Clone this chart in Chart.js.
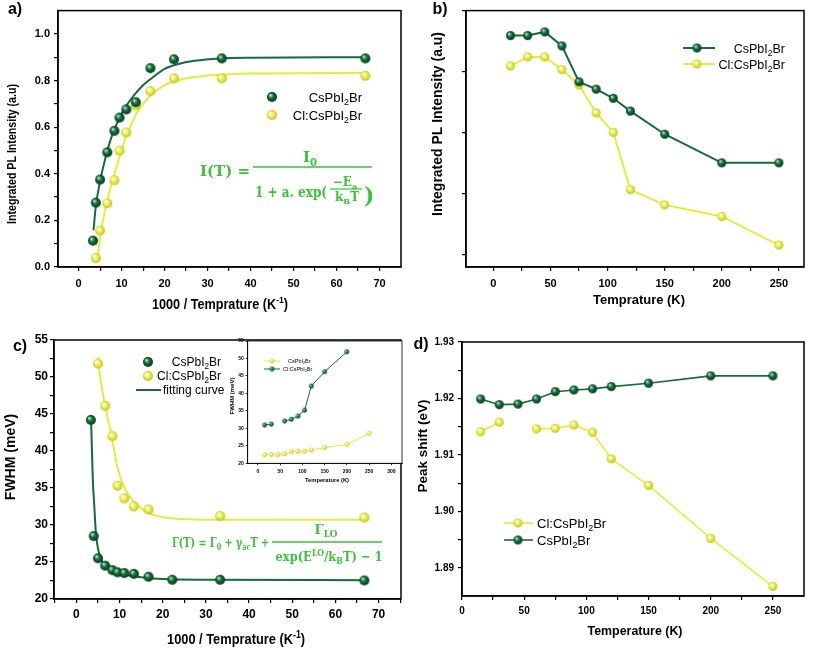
<!DOCTYPE html>
<html>
<head>
<meta charset="utf-8">
<script src="https://cdn.jsdelivr.net/npm/chart.js@4.4.0/dist/chart.umd.min.js"></script>
<style>
html, body { margin: 0; padding: 0; background: #fff; }
#wrap { position: relative; width: 813px; height: 650px; overflow: hidden; background: #fff; }
canvas { position: absolute; }
</style>
</head>
<body>
<div id="wrap">
  <canvas id="ca"></canvas>
  <canvas id="cb"></canvas>
  <canvas id="cc"></canvas>
  <canvas id="cd"></canvas>
  <canvas id="ci"></canvas>
</div>
<script>
// ---- panel a : integrated PL vs 1000/T
var invT_cs_a = [3.33, 4, 5, 6.67, 8.33, 9.52, 11.1, 13.3, 16.7, 22.2, 33.3, 66.7];
var pl_cs_a = [0.113, 0.276, 0.375, 0.492, 0.584, 0.641, 0.676, 0.707, 0.853, 0.891, 0.895, 0.895];
var invT_cl_a = [4, 5, 6.67, 8.33, 9.52, 11.1, 13.3, 16.7, 22.2, 33.3, 66.7];
var pl_cl_a = [0.038, 0.156, 0.273, 0.372, 0.499, 0.577, 0.693, 0.754, 0.809, 0.809, 0.82];
// fitted curves
var fitX_cs_a = [3.46, 4, 5, 6, 7, 8, 9.5, 11, 13, 15, 17, 20, 23, 27, 33, 40, 67];
var fitY_cs_a = [0.158, 0.26, 0.37, 0.45, 0.52, 0.575, 0.64, 0.69, 0.74, 0.78, 0.81, 0.85, 0.87, 0.885, 0.895, 0.898, 0.9];
var fitX_cl_a = [4.5, 5, 6, 7, 8, 9, 10, 11, 12, 13.5, 15, 17, 20, 23, 27, 33, 40, 67];
var fitY_cl_a = [0.05, 0.13, 0.23, 0.31, 0.38, 0.44, 0.5, 0.56, 0.6, 0.66, 0.7, 0.74, 0.78, 0.8, 0.815, 0.825, 0.83, 0.833];
var xTicks_a = [0, 5, 10, 15, 20, 25, 30, 35, 40, 45, 50, 55, 60, 65, 70];
var xLabels_a = [0, 10, 20, 30, 40, 50, 60, 70];
var yTicks_a = [0, 0.1, 0.2, 0.3, 0.4, 0.5, 0.6, 0.7, 0.8, 0.9, 1.0];
var yLabels_a = [0, 0.2, 0.4, 0.6, 0.8, 1.0];

// ---- panel b : integrated PL vs T
var temp_b = [15, 30, 45, 60, 75, 90, 105, 120, 150, 200, 250];
var pl_cs_b = [3.59, 3.59, 3.65, 3.42, 2.83, 2.71, 2.56, 2.35, 1.97, 1.50, 1.50];
var pl_cl_b = [3.09, 3.24, 3.24, 3.03, 2.78, 2.32, 2.00, 1.06, 0.81, 0.62, 0.15];
var xTicks_b = [0, 25, 50, 75, 100, 125, 150, 175, 200, 225, 250];
var xLabels_b = [0, 50, 100, 150, 200, 250];
var yTicks_b = [0, 1, 2, 3, 4];
var yLabels_b = [];

// ---- panel c : FWHM vs 1000/T
var invT_cs_c = [3.33, 4, 5, 6.67, 8.33, 9.52, 11.1, 13.3, 16.7, 22.2, 33.3, 66.7];
var fwhm_cs_c = [44.2, 28.5, 25.5, 24.5, 23.9, 23.6, 23.5, 23.4, 23.0, 22.6, 22.6, 22.5];
var invT_cl_c = [5, 6.67, 8.33, 9.52, 11.1, 13.3, 16.7, 33.3, 66.7];
var fwhm_cl_c = [51.8, 46.1, 42.0, 35.3, 33.6, 32.5, 32.1, 31.2, 31.0];
var fitX_cs_c = [3.4, 3.8, 4.1, 4.5, 5.3, 6.5, 8, 10, 12, 15, 20, 30, 67];
var fitY_cs_c = [44, 36, 33, 29, 26, 24.6, 24, 23.5, 23.2, 22.95, 22.7, 22.6, 22.55];
var fitX_cl_c = [4.95, 5.5, 6.7, 8.3, 9.4, 11.3, 13.6, 16.7, 22, 32, 67];
var fitY_cl_c = [52.7, 50, 46, 41.5, 38, 34.8, 33, 31.6, 30.9, 30.7, 30.7];
var xTicks_c = [-5, 0, 5, 10, 15, 20, 25, 30, 35, 40, 45, 50, 55, 60, 65, 70, 75];
var xLabels_c = [0, 10, 20, 30, 40, 50, 60, 70];
var yTicks_c = [20, 22.5, 25, 27.5, 30, 32.5, 35, 37.5, 40, 42.5, 45, 47.5, 50, 52.5, 55];
var yLabels_c = [20, 25, 30, 35, 40, 45, 50, 55];

// ---- inset of c : FWHM vs T
var temp_in = [15, 30, 45, 60, 75, 90, 105, 120, 150, 200, 250];
var fwhm_y_in = [22.4, 22.5, 22.5, 22.7, 23.3, 23.4, 23.5, 23.8, 24.5, 25.4, 28.6];
var fwhm_g_in = [30.95, 31.2, null, 32.1, 32.6, 33.5, 35.2, 42.1, 46.2, 51.9, null];
var xTicks_in = [0, 50, 100, 150, 200, 250, 300];
var yTicks_in = [20, 25, 30, 35, 40, 45, 50, 55];

// ---- panel d : peak shift vs T
var temp_d = [15, 30, 45, 60, 75, 90, 105, 120, 150, 200, 250];
var shift_cs_d = [1.9199, 1.9189, 1.9190, 1.9199, 1.9212, 1.9215, 1.9217, 1.9221, 1.9227, 1.9240, 1.9240];
var shift_cl_d = [1.9141, 1.9158, null, 1.9146, 1.9147, 1.9153, 1.9140, 1.9093, 1.9046, 1.8952, 1.8867];
var xTicks_d = [0, 25, 50, 75, 100, 125, 150, 175, 200, 225, 250];
var xLabels_d = [0, 50, 100, 150, 200, 250];
var yTicks_d = [1.89, 1.895, 1.90, 1.905, 1.91, 1.915, 1.92, 1.925, 1.93];
var yLabels_d = [1.89, 1.90, 1.91, 1.92, 1.93];

var GREEN = '#17693e', YELLOW = '#e3ed3a', EQ = '#3bc238';
var FONT = '"Liberation Sans", Arial, Helvetica, sans-serif';
var SERIF = '"DejaVu Serif", "Liberation Serif", serif';

function ball(r, light, mid, dark) {
    var c = document.createElement('canvas');
    var s = Math.ceil(2 * r + 2);
    c.width = c.height = s;
    var g = c.getContext('2d');
    var cx = s / 2, cy = s / 2;
    var grad = g.createRadialGradient(cx - r * 0.35, cy - r * 0.4, r * 0.08, cx, cy, r);
    grad.addColorStop(0, light);
    grad.addColorStop(0.45, mid);
    grad.addColorStop(1, dark);
    g.fillStyle = grad;
    g.beginPath();
    g.arc(cx, cy, r, 0, Math.PI * 2);
    g.fill();
    return c;
}
var gBall = ball(5, '#b9e8c6', '#12703a', '#053a1a');
var yBall = ball(5, '#ffffff', '#eef25a', '#c0c61a');
var gBallM = ball(4.5, '#b9e8c6', '#12703a', '#053a1a');
var yBallM = ball(4.5, '#ffffff', '#eef25a', '#c0c61a');
var gBallS = ball(2.4, '#a8dcb8', '#17793f', '#064020');
var yBallS = ball(2.4, '#ffffff', '#eef25a', '#c0c61a');

function pts(xs, ys) {
    return xs.map(function (x, i) { return {x: x, y: ys[i]}; });
}

function axis(min, max, ticks, labels, size, pad, fmt, tl, bw) {
    return {
        type: 'linear', min: min, max: max,
        afterBuildTicks: function (s) { s.ticks = ticks.map(function (v) { return {value: v}; }); },
        ticks: {
            autoSkip: false, maxRotation: 0, padding: pad, color: '#000',
            font: {family: FONT, size: size, weight: 'bold'},
            callback: function (v) { return labels.indexOf(v) >= 0 ? fmt(v) : ''; }
        },
        grid: {drawOnChartArea: false, drawTicks: true, tickLength: tl || 4, color: '#000', tickColor: '#000', lineWidth: bw ? 0.8 : 1.2},
        border: {display: true, color: '#000', width: bw || 1.5}
    };
}

// text helpers
function txt(ctx, s, x, y, font, align, maxW) {
    ctx.font = font;
    ctx.fillStyle = '#000';
    ctx.textAlign = align || 'center';
    ctx.textBaseline = 'middle';
    if (maxW) ctx.fillText(s, x, y, maxW); else ctx.fillText(s, x, y);
}
function vtxt(ctx, s, x, y, font, maxW) {
    ctx.save();
    ctx.translate(x, y);
    ctx.rotate(-Math.PI / 2);
    txt(ctx, s, 0, 0, font, 'center', maxW);
    ctx.restore();
}
// parts: [text, kind] kind 0 normal, 1 subscript, 2 superscript
function run(ctx, parts, x, y, o) {
    var fam = o.family || FONT, w = 0, ws = [];
    function f(k) { return (o.weight || 'normal') + ' ' + (k ? o.size * 0.68 : o.size) + 'px ' + fam; }
    parts.forEach(function (p) { ctx.font = f(p[1]); var m = ctx.measureText(p[0]).width; ws.push(m); w += m; });
    var sx = o.width ? o.width / w : 1;
    var tw = w * sx;
    var x0 = o.align === 'center' ? x - tw / 2 : (o.align === 'right' ? x - tw : x);
    ctx.save();
    ctx.translate(x0, y);
    ctx.scale(sx, 1);
    ctx.fillStyle = o.color || '#000';
    ctx.textAlign = 'left';
    ctx.textBaseline = 'alphabetic';
    var cx = 0;
    parts.forEach(function (p, i) {
        ctx.font = f(p[1]);
        var dy = p[1] === 1 ? o.size * (o.subDy || 0.25) : (p[1] === 2 ? -o.size * 0.42 : 0);
        ctx.fillText(p[0], cx, dy);
        cx += ws[i];
    });
    ctx.restore();
}
function hline(ctx, x1, x2, y, color, w) {
    ctx.strokeStyle = color;
    ctx.lineWidth = w;
    ctx.beginPath();
    ctx.moveTo(x1, y);
    ctx.lineTo(x2, y);
    ctx.stroke();
}
function putBall(ctx, b, x, y) { ctx.drawImage(b, x - b.width / 2, y - b.height / 2); }

var csName = [['CsPbI', 0], ['2', 1], ['Br', 0]];
var clName = [['Cl:CsPbI', 0], ['2', 1], ['Br', 0]];

function panel(id, box, area, cfg, deco, whiteArea) {
    var cv = document.getElementById(id);
    cv.style.left = box[0] + 'px';
    cv.style.top = box[1] + 'px';
    cv.width = box[2];
    cv.height = box[3];
    var padTop = area[1] - box[1], padRight = box[0] + box[2] - area[2];
    var yW = area[0] - box[0], xH = box[1] + box[3] - area[3];
    cfg.options.layout = {padding: {left: 0, top: padTop, right: padRight, bottom: 0}};
    cfg.options.scales.x.afterFit = function (s) { s.height = xH; };
    cfg.options.scales.y.afterFit = function (s) { s.width = yW; };
    cfg.options.responsive = false;
    cfg.options.animation = false;
    cfg.options.events = [];
    cfg.options.plugins = {legend: {display: false}, tooltip: {enabled: false}};
    cfg.plugins = [{
        id: 'deco',
        beforeDraw: function (chart) {
            if (!whiteArea) return;
            var a = chart.chartArea;
            chart.ctx.fillStyle = '#fff';
            chart.ctx.fillRect(a.left, a.top, a.right - a.left, a.bottom - a.top);
        },
        afterDraw: function (chart) {
            var ctx = chart.ctx, a = chart.chartArea;
            ctx.save();
            ctx.strokeStyle = '#000';
            ctx.lineWidth = whiteArea ? 0.8 : 1.5;
            ctx.strokeRect(a.left, a.top, a.right - a.left, a.bottom - a.top);
            ctx.translate(-box[0], -box[1]);
            deco(ctx);
            ctx.restore();
        }
    }];
    return new Chart(cv.getContext('2d'), cfg);
}

function fitSet(xs, ys, color, w) {
    return {data: pts(xs, ys), borderColor: color, borderWidth: w || 2, pointRadius: 0,
        cubicInterpolationMode: 'monotone', fill: false, order: 2};
}
function dotSet(xs, ys, b, r) {
    return {data: pts(xs, ys), showLine: false, pointStyle: b, pointRadius: r, order: 0};
}
function lineSet(xs, ys, color, b, r, w) {
    return {data: pts(xs, ys), borderColor: color, borderWidth: w || 2, pointStyle: b, pointRadius: r,
        tension: 0, spanGaps: false, fill: false, order: 1};
}
var f1 = function (v) { return v.toFixed(1); };
var f0 = function (v) { return String(v); };
var f2 = function (v) { return v.toFixed(2); };

// ----- panel a
panel('ca', [0, 0, 407, 313], [58, 7, 405, 267], {
    type: 'line',
    data: {datasets: [
        dotSet(invT_cs_a, pl_cs_a, gBall, 5),
        dotSet(invT_cl_a, pl_cl_a, yBall, 5),
        fitSet(fitX_cs_a, fitY_cs_a, GREEN),
        fitSet(fitX_cl_a, fitY_cl_a, YELLOW)
    ]},
    options: {scales: {
        x: axis(-4.8, 75, xTicks_a, xLabels_a, 11, 6, f0),
        y: axis(0, 1.1, yTicks_a, yLabels_a, 11, 4, f1)
    }}
}, function (ctx) {
    txt(ctx, 'a)', 15, 10, 'bold 16px ' + FONT);
    vtxt(ctx, 'Integrated PL Intensity (a.u)', 12, 154, 'bold 13px ' + FONT, 140);
    run(ctx, [['1000 / Temprature (K', 0], ['-1', 2], [')', 0]], 220, 309, {size: 14, weight: 'bold', align: 'center', width: 136});
    putBall(ctx, gBall, 272, 97);
    putBall(ctx, yBall, 272, 115);
    run(ctx, csName, 362, 102, {size: 13, align: 'right'});
    run(ctx, clName, 362, 120, {size: 13, align: 'right'});
    // I(T) = I0 / (1 + a.exp(-Ea/kBT))
    var eq = {size: 15, weight: 'bold', family: SERIF, color: EQ};
    run(ctx, [['I(T) =', 0]], 200, 176, Object.assign({}, eq, {width: 50}));
    hline(ctx, 253, 372, 167, EQ, 1.4);
    run(ctx, [['I', 0], ['0', 1]], 310, 162, Object.assign({}, eq, {align: 'center'}));
    run(ctx, [['1 + a. exp(', 0]], 255, 197, Object.assign({}, eq, {width: 72}));
    var sm = {size: 12, weight: 'bold', family: SERIF, color: EQ, align: 'center'};
    run(ctx, [['\u2212E', 0], ['a', 1]], 345, 186, sm);
    hline(ctx, 330, 362, 189, EQ, 1.2);
    run(ctx, [['k', 0], ['B', 1], ['T', 0]], 347, 201, sm);
    run(ctx, [[')', 0]], 364, 203, {size: 22, weight: 'bold', family: SERIF, color: EQ});
});

// ----- panel b
panel('cb', [407, 0, 406, 313], [466, 8, 804, 267], {
    type: 'line',
    data: {datasets: [
        lineSet(temp_b, pl_cs_b, GREEN, gBallM, 4.5),
        lineSet(temp_b, pl_cl_b, YELLOW, yBallM, 4.5)
    ]},
    options: {scales: {
        x: axis(-24, 272, xTicks_b, xLabels_b, 11, 6, f0),
        y: axis(-0.21, 4.0, yTicks_b, yLabels_b, 11, 4, f0)
    }}
}, function (ctx) {
    txt(ctx, 'b)', 440, 10, 'bold 16px ' + FONT);
    vtxt(ctx, 'Integrated PL Intensity (a.u)', 438, 124, 'bold 14px ' + FONT, 184);
    txt(ctx, 'Temprature (K)', 639, 300, 'bold 13.5px ' + FONT, 'center', 92);
    hline(ctx, 683, 715, 48, GREEN, 2);
    putBall(ctx, gBallM, 697, 48);
    hline(ctx, 683, 715, 64, YELLOW, 2);
    putBall(ctx, yBallM, 697, 64);
    run(ctx, csName, 785, 53, {size: 12.5, align: 'right'});
    run(ctx, clName, 785, 69, {size: 12.5, align: 'right'});
});

// ----- panel c
panel('cc', [0, 313, 407, 337], [54, 340, 406, 599], {
    type: 'line',
    data: {datasets: [
        dotSet(invT_cs_c, fwhm_cs_c, gBall, 5),
        dotSet(invT_cl_c, fwhm_cl_c, yBall, 5),
        fitSet(fitX_cs_c, fitY_cs_c, GREEN),
        fitSet(fitX_cl_c, fitY_cl_c, YELLOW)
    ]},
    options: {scales: {
        x: axis(-5.2, 75.2, xTicks_c, xLabels_c, 12, 4, f0),
        y: axis(20, 55, yTicks_c, yLabels_c, 12, 2, f0)
    }}
}, function (ctx) {
    txt(ctx, 'c)', 20, 347, 'bold 16px ' + FONT);
    vtxt(ctx, 'FWHM (meV)', 11, 457, 'bold 14px ' + FONT);
    run(ctx, [['1000 / Temprature (K', 0], ['-1', 2], [')', 0]], 236, 644, {size: 15, weight: 'bold', align: 'center', width: 138});
    putBall(ctx, gBall, 148, 362);
    putBall(ctx, yBall, 148, 376);
    run(ctx, csName, 221, 366, {size: 12, align: 'right'});
    run(ctx, clName, 221, 380, {size: 12, align: 'right'});
    hline(ctx, 136, 161, 390, GREEN, 2);
    run(ctx, [['fitting curve', 0]], 163, 394, {size: 12});
    // Gamma(T) = Gamma0 + gamma_ac T + Gamma_LO / (exp(E_LO/kBT) - 1)
    var eq = {size: 13, weight: 'bold', family: SERIF, color: EQ};
    run(ctx, [['\u0393(T) = \u0393', 0], ['0', 1], [' + \u03b3', 0], ['ac', 1], ['T +', 0]], 172, 547, Object.assign({}, eq, {width: 97}));
    hline(ctx, 272, 382, 542, EQ, 1.3);
    run(ctx, [['\u0393', 0], ['LO', 1]], 326, 534, Object.assign({}, eq, {align: 'center'}));
    run(ctx, [['exp(E', 0], ['LO', 2], ['/k', 0], ['B', 1], ['T) \u2212 1', 0]], 329, 561, Object.assign({}, eq, {align: 'center', width: 107}));
});

// ----- inset of c
panel('ci', [215, 336, 192, 154], [247.7, 340.5, 405, 463.3], {
    type: 'line',
    data: {datasets: [
        lineSet(temp_in, fwhm_y_in, YELLOW, yBallS, 2.4, 1),
        lineSet(temp_in, fwhm_g_in, GREEN, gBallS, 2.4, 1)
    ]},
    options: {scales: {
        x: axis(-23, 324, xTicks_in, xTicks_in, 5, 3, f0, 2, 0.8),
        y: axis(20, 55, yTicks_in, yTicks_in, 5, 2, f0, 2, 0.8)
    }}
}, function (ctx) {
    hline(ctx, 264, 280, 361, YELLOW, 1);
    putBall(ctx, yBallS, 272, 361);
    hline(ctx, 264, 280, 369, GREEN, 1);
    putBall(ctx, gBallS, 272, 369);
    run(ctx, csName, 288, 363, {size: 5.5});
    run(ctx, clName, 283, 371, {size: 5.5});
    vtxt(ctx, 'FWHM (meV)', 232, 396, 'bold 6px ' + FONT);
    txt(ctx, 'Temperature (K)', 327, 480, 'bold 6px ' + FONT, 'center', 44);
}, true);

// ----- panel d
panel('cd', [407, 313, 406, 337], [462, 342, 804, 596], {
    type: 'line',
    data: {datasets: [
        lineSet(temp_d, shift_cs_d, GREEN, gBallM, 4.5, 1.6),
        lineSet(temp_d, shift_cl_d, YELLOW, yBallM, 4.5, 1.6)
    ]},
    options: {scales: {
        x: axis(0, 275, xTicks_d, xLabels_d, 10, 5, f0),
        y: axis(1.885, 1.93, yTicks_d, yLabels_d, 10, 4, f2)
    }}
}, function (ctx) {
    txt(ctx, 'd)', 421, 345, 'bold 16px ' + FONT);
    vtxt(ctx, 'Peak shift (eV)', 423, 446, 'bold 13.5px ' + FONT);
    txt(ctx, 'Temperature (K)', 635, 631, 'bold 13px ' + FONT, 'center', 95);
    hline(ctx, 504, 533, 523, YELLOW, 1.6);
    putBall(ctx, yBallM, 518, 523);
    hline(ctx, 504, 533, 540, GREEN, 1.6);
    putBall(ctx, gBallM, 518, 540);
    run(ctx, clName, 537, 528, {size: 13});
    run(ctx, csName, 537, 545, {size: 13});
});
</script>
</body>
</html>
